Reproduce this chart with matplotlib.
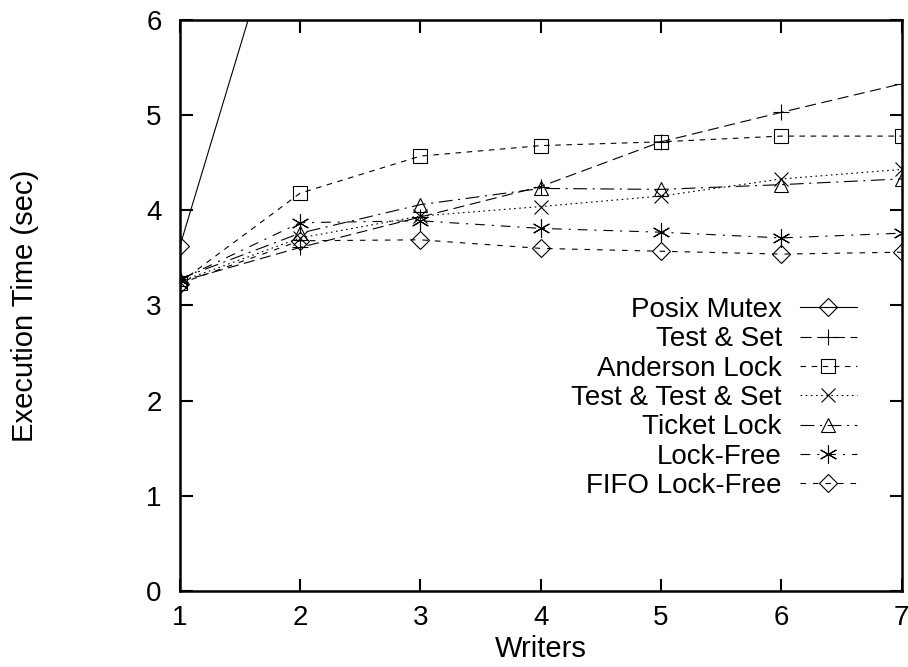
import matplotlib as mpl
mpl.rcParams['font.family'] = ['Liberation Sans', 'DejaVu Sans']
mpl.rcParams['lines.scale_dashes'] = False
import matplotlib.pyplot as plt

writers = [1, 2, 3, 4, 5, 6, 7]

posix_mutex = [3.62, 7.81, 11.2, 14.5, 17.3, 20.1, 22.8]
test_and_set = [3.25, 3.61, 3.93, 4.25, 4.72, 5.03, 5.33]
anderson_lock = [3.24, 4.18, 4.57, 4.68, 4.72, 4.78, 4.78]
test_test_set = [3.25, 3.71, 3.94, 4.04, 4.15, 4.33, 4.43]
ticket_lock = [3.28, 3.76, 4.06, 4.23, 4.22, 4.27, 4.33]
lock_free = [3.27, 3.87, 3.89, 3.81, 3.77, 3.71, 3.76]
fifo_lock_free = [3.23, 3.68, 3.69, 3.60, 3.57, 3.54, 3.56]

series = [
    ("Posix Mutex", posix_mutex, 'D', '-', 9.5),
    ("Test & Set", test_and_set, '+', (0, (8, 4)), 12),
    ("Anderson Lock", anderson_lock, 's', (0, (4, 4)), 10),
    ("Test & Test & Set", test_test_set, 'x', (0, (1.2, 2.5)), 10),
    ("Ticket Lock", ticket_lock, '^', (0, (10, 4, 1.5, 4)), 10),
    ("Lock-Free", lock_free, (6, 2, 0), (0, (7, 5, 1.5, 5)), 13),
    ("FIFO Lock-Free", fifo_lock_free, 'D', (0, (4, 5)), 9.5),
]

fig = plt.figure(figsize=(9.08, 6.67), dpi=100)
ax = fig.add_axes([0.198, 0.114, 0.795, 0.856])

for label, vals, marker, ls, ms in series:
    ax.plot(writers, vals, color='black', linewidth=0.8, linestyle=ls,
            marker=marker, markersize=ms, markerfacecolor='none',
            markeredgecolor='black', markeredgewidth=0.8,
            label=label, clip_on=True)

ax.set_xlim(1, 7)
ax.set_ylim(0, 6)
ax.set_xticks(writers)
ax.set_yticks(range(7))

for s in ax.spines.values():
    s.set_linewidth(1.8)
ax.tick_params(direction='in', length=9, width=1.5, labelsize=20,
               top=True, right=True)
ax.tick_params(axis='y', pad=13)
ax.tick_params(axis='x', pad=10)

ax.set_xlabel("Writers", fontsize=21)
ax.set_ylabel("Execution Time (sec)", fontsize=21)
ax.xaxis.set_label_coords(0.5, -0.077)
ax.yaxis.set_label_coords(-0.195, 0.5)

ax.legend(loc='center right', bbox_to_anchor=(0.938, 0.338),
          markerfirst=False, frameon=False, fontsize=20,
          handlelength=2.05, handletextpad=0.65, labelspacing=0.12,
          borderpad=0, borderaxespad=0)

fig.savefig("out.png")
